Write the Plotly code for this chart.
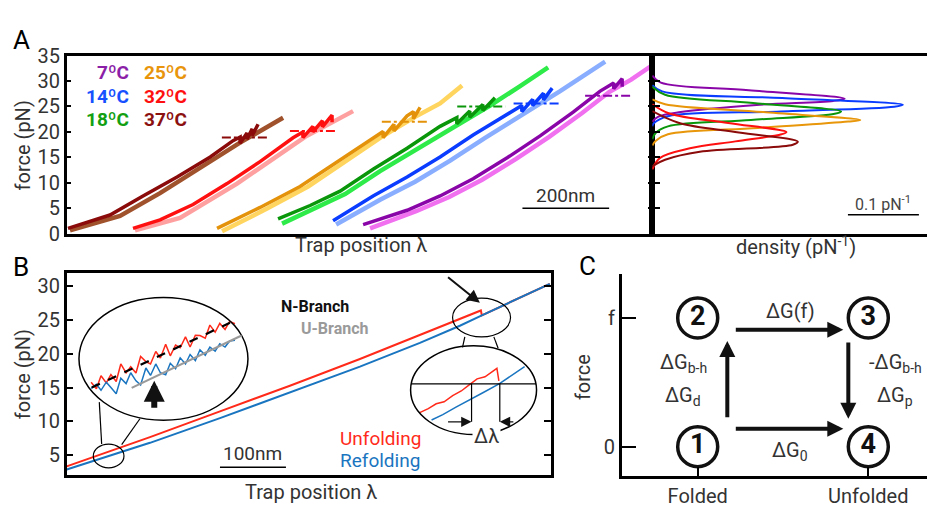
import plotly.graph_objects as go

W, H = 927, 513
FONT = "Roboto, 'Open Sans', sans-serif"
TXT = "#333333"

# ---------------- Panel A : force (pN) vs trap position (nm) ----------------
# unfolding (dark) and refolding (light) traces per temperature
a7_unf_x = [683.8, 785.3, 861.4, 937.6, 1016.1, 1092.2, 1168.4, 1230.7, 1262, 1262, 1281.5, 1281.5]
a7_unf_f = [1.82, 4.62, 7.43, 10.8, 14.92, 19.22, 23.9, 28.02, 29.6, 28.5, 30.45, 28.9]
a7_ref_x = [699.9, 806.1, 882.3, 958.4, 1036.8, 1113.0, 1189.1, 1251.4, 1302.2, 1350.7]
a7_ref_f = [1.07, 4.44, 7.24, 10.61, 14.73, 19.03, 23.71, 27.83, 30.27, 33.07]

a14_unf_x = [614.5, 672.2, 706.9, 785.3, 861.4, 937.6, 1016.1, 1050, 1050, 1075, 1075, 1100, 1100, 1120]
a14_unf_f = [2.56, 5.56, 7.43, 11.17, 15.1, 19.41, 23.53, 25.2, 24.0, 26.4, 25.2, 27.6, 26.3, 28.6]
a14_ref_x = [621.5, 723.0, 803.8, 884.6, 965.3, 1046.1, 1138.4, 1242.2]
a14_ref_f = [1.82, 6.68, 10.24, 14.36, 18.85, 23.15, 28.02, 33.82]

a18_unf_x = [487.6, 561.5, 630.7, 706.9, 785.3, 861.4, 900, 900, 930, 930, 960, 960, 988]
a18_unf_f = [2.94, 5.56, 8.37, 12.68, 16.8, 21.1, 22.8, 21.6, 24.1, 22.9, 25.4, 24.2, 26.7]
a18_ref_x = [496.9, 573.4, 642.2, 723.0, 803.8, 884.6, 976.9, 1046.1, 1110.7]
a18_ref_f = [2.0, 5.0, 7.8, 12.3, 16.4, 20.7, 25.2, 29.0, 32.7]

a25_unf_x = [346.8, 446.1, 538.4, 630.7, 706.9, 730, 730, 755, 755, 785.3, 800, 800, 815.3]
a25_unf_f = [1.07, 5.18, 9.3, 14.55, 18.85, 20.1, 18.9, 21.5, 20.2, 23.15, 24.0, 22.6, 24.84]
a25_ref_x = [358.4, 463.3, 556.9, 649.2, 723.0, 803.8, 861.4, 912.2]
a25_ref_f = [0.51, 5.0, 9.3, 14.55, 18.85, 22.96, 25.59, 29.14]

a32_unf_x = [153.0, 215.3, 291.5, 369.9, 446.1, 522.2, 545, 545, 568, 568, 590, 590, 612.2, 612.2]
a32_unf_f = [1.07, 2.75, 5.75, 9.86, 14.17, 18.85, 20.0, 18.9, 21.1, 20.0, 22.2, 21.0, 23.3, 21.9]
a32_ref_x = [157.6, 261.5, 393.0, 469.2, 550.0, 660.7]
a32_ref_f = [0.69, 3.13, 9.86, 14.36, 19.03, 24.09]

a37_unf_x = [3.0, 99.9, 176.1, 254.6, 331.2, 383.8, 400, 400, 416, 416, 428, 428, 441.5]
a37_unf_f = [1.07, 3.69, 7.43, 11.17, 15.1, 18.29, 19.0, 17.8, 19.8, 18.6, 20.6, 19.3, 21.5]
a37_ref_x = [7.6, 123.0, 215.3, 307.6, 399.9, 499.2]
a37_ref_f = [0.69, 3.5, 7.99, 12.86, 17.91, 22.78]

# mean unfolding force (pN) and the trap-position span of its marker line (nm)
mean_force = [27.1, 25.6, 25.0, 22.0, 20.2, 18.9]
mean_span = [[1196, 1304], [1031, 1138], [901, 1012], [727, 837], [515, 623], [358, 463]]
temp_labels = ["7ºC", "14ºC", "18ºC", "25ºC", "32ºC", "37ºC"]

# ---------------- Panel A right : unfolding-force densities ----------------
d7_f = [31.07, 29.70, 28.2, 26.52, 26.1, 25.3, 23.9, 22.97, 22.0]
d7_v = [0.0, 0.012, 0.136, 0.271, 0.255, 0.147, 0.040, 0.008, 0.0]
d14_f = [29.2, 27.96, 26.65, 25.34, 24.97, 24.03, 23.1, 21.7, 21.1]
d14_v = [0.0, 0.014, 0.183, 0.353, 0.341, 0.181, 0.022, 0.002, 0.0]
d18_f = [28.9, 27.3, 25.68, 24.03, 23.58, 22.35, 21.1, 19.84, 18.6]
d18_v = [0.0, 0.018, 0.142, 0.266, 0.257, 0.139, 0.022, 0.005, 0.0]
d25_f = [26.4, 25.45, 23.9, 22.35, 22.03, 20.78, 19.54, 18.29, 17.35]
d25_v = [0.0, 0.018, 0.156, 0.293, 0.276, 0.149, 0.022, 0.005, 0.0]
d32_f = [25.45, 23.58, 21.78, 19.97, 19.54, 18.15, 16.79, 14.92, 12.67]
d32_v = [0.0, 0.025, 0.107, 0.189, 0.182, 0.117, 0.053, 0.011, 0.0]
d37_f = [24.09, 21.71, 19.91, 18.1, 17.48, 16.1, 14.54, 13.29]
d37_v = [0.0, 0.039, 0.122, 0.205, 0.198, 0.067, 0.018, 0.0]

# ---------------- Panel B : single pulling cycle ----------------
b_unf_x = [0, 126.2, 232.3, 338.3, 444.4, 535.3, 595.9, 627.7, 629.2, 732.2]
b_unf_f = [3.35, 7.68, 11.48, 15.28, 19.23, 22.75, 25.14, 26.41, 25.7, 30.35]
b_ref_x = [0, 126.2, 232.3, 338.3, 444.4, 535.3, 595.9, 629.2, 732.2]
b_ref_f = [2.89, 6.83, 10.49, 14.3, 18.1, 21.62, 24.15, 25.7, 30.35]

# magnified low-force inset (left)
bi_x = [37, 45, 52, 60, 67, 75, 82, 90, 97, 105, 112, 120, 127, 135, 142, 150, 157, 165, 172,
        180, 187, 195, 202, 210, 217, 225, 232, 240, 247, 255]
bi_unf_f = [15.8, 14.83, 16.75, 15.7, 16.93, 15.9, 18.5, 17.18, 18.1, 17.17, 19.6, 18.85, 18.5,
            20.35, 19.38, 21.4, 19.7, 21.3, 20.9, 22.5, 21.0, 22.75, 22.7, 22.3, 24.25, 23.2,
            24.5, 23.6, 24.8, 24.45]
bi_ref_f = [14.9, 15.5, 14.6, 15.8, 15.0, 14.1, 16.4, 15.6, 17.2, 16.0, 15.4, 17.9, 16.8, 18.5,
            17.2, 16.9, 18.6, 17.8, 19.4, 18.5, 19.9, 19.0, 20.6, 19.8, 21.0, 20.4, 21.5, 21.0,
            21.9, 22.0]
# magnified unfolding-event inset (right)
br_unf_x = [535, 548, 560, 572, 585, 598, 610, 622, 634, 645, 652, 655]
br_unf_f = [11.3, 11.9, 12.6, 12.9, 13.8, 14.5, 15.4, 16.3, 16.6, 17.4, 17.85, 16.0]
br_ref_x = [553, 570, 590, 610, 630, 656, 675, 694]
br_ref_f = [10.2, 11.0, 12.1, 13.2, 14.2, 15.6, 16.9, 18.1]

# ---------------- Panel C : thermodynamic cycle ----------------
state_x = [1, 1, 2, 2]
state_y = [0, 1, 1, 0]
state_lab = ["1", "2", "3", "4"]

# ----------------------------------------------------------------
fig = go.Figure()


def add_line(x, y, color, width, xa, ya, dash=None, shape="linear"):
    fig.add_trace(go.Scatter(x=x, y=y, mode="lines",
                             line=dict(color=color, width=width, dash=dash, shape=shape),
                             xaxis=xa, yaxis=ya, showlegend=False, hoverinfo="skip"))


dark = ["#8A05A8", "#0A3CFF", "#0A960A", "#E3920A", "#FF1010", "#8B0A0A"]
light = ["#F070F0", "#8AAEFF", "#2EEB4A", "#FFD560", "#FFA0A0", "#A0522D"]
dens_col = ["#8A05A8", "#0A3CFF", "#0A960A", "#E8960A", "#FF1010", "#8B0A0A"]

unf = [(a7_unf_x, a7_unf_f), (a14_unf_x, a14_unf_f), (a18_unf_x, a18_unf_f),
       (a25_unf_x, a25_unf_f), (a32_unf_x, a32_unf_f), (a37_unf_x, a37_unf_f)]
ref = [(a7_ref_x, a7_ref_f), (a14_ref_x, a14_ref_f), (a18_ref_x, a18_ref_f),
       (a25_ref_x, a25_ref_f), (a32_ref_x, a32_ref_f), (a37_ref_x, a37_ref_f)]
dens = [(d7_f, d7_v), (d14_f, d14_v), (d18_f, d18_v), (d25_f, d25_v), (d32_f, d32_v), (d37_f, d37_v)]

for i in range(6):
    add_line(ref[i][0], ref[i][1], light[i], 4.5, "x", "y")
    add_line(unf[i][0], unf[i][1], dark[i], 3.5, "x", "y")
for i in range(6):
    add_line(mean_span[i], [mean_force[i]] * 2, dark[i], 2, "x", "y", dash="dashdot")
for i in range(6):
    add_line(dens[i][1], dens[i][0], dens_col[i], 2, "x2", "y2", shape="spline")

# Panel B
add_line(b_unf_x, b_unf_f, "#FF2A1A", 2, "x3", "y3")
add_line(b_ref_x, b_ref_f, "#1A75C0", 2, "x3", "y3")
add_line(bi_x, bi_unf_f, "#FF2A1A", 1.5, "x3", "y3")
add_line(bi_x, bi_ref_f, "#1A75C0", 1.5, "x3", "y3")
add_line(br_unf_x, br_unf_f, "#FF2A1A", 1.5, "x3", "y3")
add_line(br_ref_x, br_ref_f, "#1A75C0", 1.5, "x3", "y3")

# Panel C states
fig.add_trace(go.Scatter(x=state_x, y=state_y, mode="markers+text",
                         text=["<b>%s</b>" % s for s in state_lab],
                         textposition="middle center",
                         textfont=dict(family=FONT, size=27, color="#111"),
                         marker=dict(symbol="circle-open", size=40, color="#111",
                                     line=dict(width=3.5, color="#111")),
                         xaxis="x4", yaxis="y4", showlegend=False, hoverinfo="skip"))

# ---------------- axes ----------------
def dom_x(a, b):
    return [a / W, min(b / W, 1.0)]


def dom_y(top, bot):
    return [1 - bot / H, 1 - top / H]


ax_common = dict(showgrid=False, zeroline=False, linecolor="black", linewidth=2.5,
                 tickcolor="black", tickfont=dict(family=FONT, size=20, color=TXT))

fig.update_layout(
    width=W, height=H, margin=dict(l=0, r=0, t=0, b=0),
    paper_bgcolor="white", plot_bgcolor="white",
    font=dict(family=FONT, color=TXT),
    xaxis=dict(domain=dom_x(66.7, 652.3), range=[0, 1351], showticklabels=False, ticks="",
               showline=True, mirror=True, anchor="y", **ax_common),
    yaxis=dict(domain=dom_y(45.7, 232.7), range=[0, 35], tickvals=[0, 5, 10, 15, 20, 25, 30, 35],
               ticks="inside", ticklen=5, tickwidth=1.5, showline=True, mirror="ticks",
               anchor="x", **ax_common),
    xaxis2=dict(domain=dom_x(652.3, 927), range=[0, 0.387], showticklabels=False, ticks="",
                showline=True, mirror=True, anchor="y2", **ax_common),
    yaxis2=dict(domain=dom_y(45.7, 232.7), range=[0, 35], tickvals=[5, 10, 15, 20, 25, 30],
                showticklabels=False, ticks="inside", ticklen=8, tickwidth=1.5, showline=True,
                anchor="x2", **ax_common),
    xaxis3=dict(domain=dom_x(66.7, 551), range=[0, 734], showticklabels=False, ticks="",
                showline=True, mirror=True, anchor="y3", **ax_common),
    yaxis3=dict(domain=dom_y(273.3, 485.5), range=[2.1, 32.03], tickvals=[5, 10, 15, 20, 25, 30],
                ticks="inside", ticklen=7, tickwidth=1.5, showline=True, mirror="ticks",
                anchor="x3", **ax_common),
    xaxis4=dict(domain=dom_x(621.7, 927), range=[0.5545, 2.344], tickvals=[1, 2],
                ticktext=["Folded", "Unfolded"], ticks="inside", ticklen=9, tickwidth=2,
                showline=True, anchor="y4", **ax_common),
    yaxis4=dict(domain=dom_y(275, 486.7), range=[-0.2274, 1.3407], tickvals=[0, 1],
                ticktext=["0", "f"], ticks="inside", ticklen=15, tickwidth=2,
                showline=True, anchor="x4", **ax_common),
)

# ---------------- shapes ----------------
shapes = []


def sline(x0, y0, x1, y1, xr, yr, color="black", width=1.2, dash=None):
    shapes.append(dict(type="line", x0=x0, y0=y0, x1=x1, y1=y1, xref=xr, yref=yr,
                       line=dict(color=color, width=width, dash=dash)))


def sell(x0, y0, x1, y1, xr, yr, width=1.5):
    shapes.append(dict(type="circle", x0=x0, y0=y0, x1=x1, y1=y1, xref=xr, yref=yr,
                       line=dict(color="black", width=width)))


# scale bars
sline(1051.4, 5.0, 1251.4, 5.0, "x", "y", width=1.5)
sline(0.2756, 3.74, 0.3756, 3.74, "x2", "y2", width=1.5)
sline(232.3, 3.21, 332.3, 3.21, "x3", "y3", width=1.5)
# left inset (panel B)
sell(18.6, 10.17, 274.7, 28.34, "x3", "y3")
sell(40.3, 3.13, 86.8, 6.65, "x3", "y3", width=1.2)
sline(49.4, 12.85, 53.0, 6.65, "x3", "y3")
sline(111.0, 10.39, 83.3, 6.55, "x3", "y3")
sline(37.9, 15.0, 247.4, 24.58, "x3", "y3", width=2.2, dash="dash")
sline(98.5, 14.96, 265.1, 22.70, "x3", "y3", color="#9a9a9a", width=2.2)
# right inset (panel B)
sell(584.8, 22.51, 672.7, 28.24, "x3", "y3", width=1.2)
sline(603.4, 22.51, 599.9, 20.96, "x3", "y3")
sline(647.4, 22.51, 653.9, 20.82, "x3", "y3")
sell(521.2, 8.06, 712.1, 21.2, "x3", "y3")
sline(522.2, 15.56, 711.1, 15.56, "x3", "y3")
sline(613.6, 15.56, 613.6, 9.93, "x3", "y3")
sline(656.4, 15.56, 656.4, 9.93, "x3", "y3")
fig.update_layout(shapes=shapes)

# ---------------- annotations ----------------
ann = []


def ptext(text, x, y, size=20, color=TXT, xanchor="center", angle=0, bold=False):
    ann.append(dict(text=("<b>%s</b>" % text) if bold else text, x=x / W, y=1 - y / H,
                    xref="paper", yref="paper", showarrow=False, xanchor=xanchor,
                    yanchor="middle", textangle=angle, borderpad=0,
                    font=dict(family=FONT, size=size, color=color)))


def dtext(text, x, y, xr, yr, size=20, color=TXT, bold=False, **kw):
    d = dict(text=("<b>%s</b>" % text) if bold else text, x=x, y=y, xref=xr, yref=yr,
             showarrow=False, borderpad=0, font=dict(family=FONT, size=size, color=color))
    d.update(kw)
    ann.append(d)


def arrow(x, y, ax, ay, xr, yr, width, size, head=2):
    ann.append(dict(text="", x=x, y=y, ax=ax, ay=ay, xref=xr, yref=yr, axref=xr, ayref=yr,
                    showarrow=True, arrowhead=head, arrowwidth=width, arrowsize=size,
                    arrowcolor="#111"))


# panel letters
ptext("A", 21, 29, size=26, color="black")
ptext("B", 21, 267, size=26, color="black")
ptext("C", 587, 266, size=26, color="black")
# axis titles
ptext("force (pN)", 23, 140, angle=-90)
ptext("force (pN)", 23, 380, angle=-90)
ptext("force", 583, 383, angle=-90)
ptext("Trap position λ", 361, 244)
ptext("density (pN<sup>-1</sup>)", 796, 245)
ptext("Trap position λ", 311, 504)
# temperature legend
leg_pos = [(130, 63, "right"), (130, 89, "right"), (130, 113, "right"),
           (143, 63, "left"), (143, 89, "left"), (143, 113, "left")]
leg_col = ["#8B1FA8", "#1650FF", "#12A012", "#E8950C", "#FF1010", "#8B1010"]
for i in range(6):
    ptext(temp_labels[i], leg_pos[i][0], leg_pos[i][1], size=19, color=leg_col[i],
          xanchor=leg_pos[i][2], bold=True)

# scale bar labels
dtext("200nm", 1151.4, 7.5, "x", "y", size=19)
dtext("0.1 pN<sup>-1</sup>", 0.3256, 6.0, "x2", "y2", size=16, color="#444")
dtext("100nm", 282.3, 5.3, "x3", "y3", size=19)
# panel B labels
dtext("N-Branch", 375.6, 27.07, "x3", "y3", size=16, color="#111", bold=True)
dtext("U-Branch", 406.5, 23.77, "x3", "y3", size=16, color="#9a9a9a", bold=True)
dtext("Unfolding", 475.4, 7.5, "x3", "y3", size=19, color="#FF2A1A")
dtext("Refolding", 475.4, 4.2, "x3", "y3", size=19, color="#1A75C0")
dtext("Δλ", 636.3, 7.85, "x3", "y3", size=20, bgcolor="white", borderpad=1)
arrow(626.2, 27.54, 575.7, 31.52, "x3", "y3", 2, 1.3)
arrow(132.7, 16.03, 132.7, 11.8, "x3", "y3", 6, 0.7)
arrow(613.6, 9.93, 575.7, 9.93, "x3", "y3", 1.3, 1.6)
arrow(656.4, 9.93, 679.2, 9.93, "x3", "y3", 1.3, 1.6)

# panel C arrows and labels
arrow(1.8535, 0.909, 1.2145, 0.909, "x4", "y4", 4, 0.8)
arrow(1.8535, 0.1385, 1.2145, 0.1385, "x4", "y4", 4, 0.8)
arrow(1.1735, 0.822, 1.1735, 0.217, "x4", "y4", 4, 0.8)
arrow(1.8828, 0.217, 1.8828, 0.822, "x4", "y4", 4, 0.8)
dtext("ΔG(f)", 1.541, 1.057, "x4", "y4")
dtext("ΔG<sub>0</sub>", 1.541, -0.03, "x4", "y4")
dtext("ΔG<sub>b-h</sub>", 0.9156, 0.65, "x4", "y4")
dtext("ΔG<sub>d</sub>", 0.9156, 0.39, "x4", "y4")
dtext("-ΔG<sub>b-h</sub>", 2.1565, 0.65, "x4", "y4")
dtext("ΔG<sub>p</sub>", 2.1565, 0.39, "x4", "y4")

fig.update_layout(annotations=ann)
fig.write_html("out.html")
